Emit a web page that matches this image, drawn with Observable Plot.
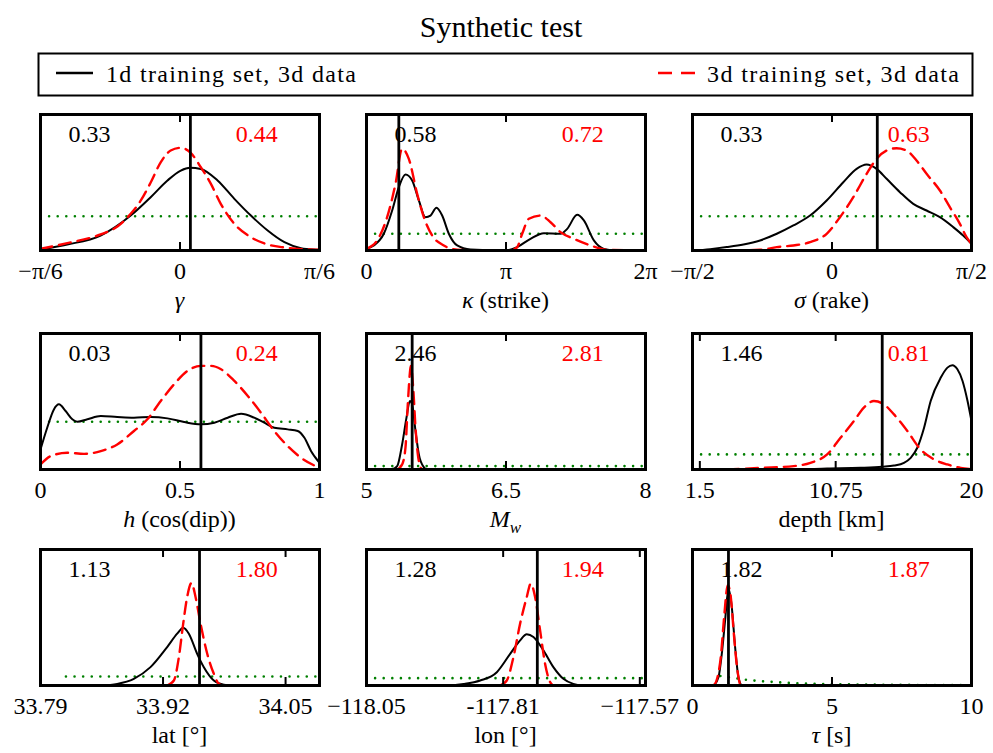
<!DOCTYPE html>
<html>
<head>
<meta charset="utf-8">
<script src="https://cdn.jsdelivr.net/npm/d3@7"></script>
<script src="https://cdn.jsdelivr.net/npm/@observablehq/plot@0.6"></script>
<style>
  body { margin: 0; background: #fff; }
  #wrap { position: relative; width: 993px; height: 753px; overflow: hidden; background: #fff; }
  .panel { position: absolute; }
  #header { position: absolute; left: 0; top: 0; }
  svg text { font-family: "Liberation Serif", "DejaVu Serif", "Noto Serif", "Times New Roman", Times, "FreeSerif", Georgia, serif; }
</style>
</head>
<body>
<div id="wrap">
  <svg id="header" width="993" height="105"></svg>
</div>
<script>
// ---------- data (x in parameter units, y = density relative to panel height) ----------
const PI = Math.PI;

// gamma
const gammaDomain = [-PI / 6, PI / 6];
const gammaTicks = [-PI / 6, 0, PI / 6];
const gammaTickLabels = ["−π/6", "0", "π/6"];
const gamma1d = [[-0.524,0.007],[-0.423,0.044],[-0.298,0.11],[-0.185,0.257],[-0.110,0.392],[-0.047,0.515],[0.003,0.588],[0.038,0.608],[0.078,0.600],[0.141,0.515],[0.204,0.38],[0.266,0.257],[0.329,0.147],[0.392,0.061],[0.454,0.017],[0.517,0.005],[0.524,0.004]];
const gamma3d = [[-0.524,0.012],[-0.423,0.054],[-0.298,0.118],[-0.235,0.176],[-0.185,0.27],[-0.147,0.368],[-0.110,0.50],[-0.072,0.65],[-0.035,0.735],[0.003,0.755],[0.041,0.716],[0.078,0.613],[0.116,0.49],[0.153,0.343],[0.204,0.196],[0.266,0.098],[0.329,0.044],[0.392,0.022],[0.454,0.01],[0.524,0.005]];
const gammaPrior = [[-0.5236,0.252],[0.5236,0.252]];
const gammaTrue = 0.039;
const gammaScores = ["0.33", "0.44"];

// kappa (strike)
const kappaDomain = [0, 2 * PI];
const kappaTicks = [0, PI, 2 * PI];
const kappaTickLabels = ["0", "π", "2π"];
const kappa1d = [[0,0.012],[0.165,0.037],[0.390,0.123],[0.578,0.294],[0.728,0.466],[0.878,0.559],[1.028,0.515],[1.179,0.368],[1.329,0.245],[1.441,0.257],[1.576,0.314],[1.704,0.257],[1.854,0.123],[2.042,0.037],[2.342,0.007],[3.145,0.0],[3.393,0.025],[3.693,0.086],[3.994,0.127],[4.369,0.123],[4.519,0.159],[4.744,0.262],[4.895,0.221],[5.120,0.074],[5.345,0.012],[5.645,0],[6.283,0]];
const kappa3d = [[0,0.012],[0.240,0.074],[0.465,0.245],[0.653,0.49],[0.803,0.748],[0.953,0.674],[1.141,0.417],[1.291,0.245],[1.479,0.11],[1.742,0.037],[2.042,0.005],[2.567,0],[3.243,0],[3.393,0.025],[3.506,0.123],[3.656,0.233],[3.919,0.257],[4.144,0.208],[4.369,0.135],[4.669,0.086],[5.045,0.037],[5.420,0.005],[6.283,0]];
const kappaPrior = [[0,0.123],[6.2832,0.123]];
const kappaTrue = 0.728;
const kappaScores = ["0.58", "0.72"];

// sigma (rake)
const sigmaDomain = [-PI / 2, PI / 2];
const sigmaTicks = [-PI / 2, 0, PI / 2];
const sigmaTickLabels = ["−π/2", "0", "π/2"];
const sigma1d = [[-1.571,0],[-1.372,0.01],[-1.185,0.025],[-0.997,0.044],[-0.810,0.074],[-0.622,0.123],[-0.435,0.184],[-0.247,0.257],[-0.060,0.368],[0.127,0.502],[0.277,0.6],[0.390,0.632],[0.502,0.6],[0.615,0.527],[0.765,0.429],[0.915,0.343],[1.065,0.294],[1.215,0.245],[1.365,0.172],[1.477,0.11],[1.571,0.049]];
const sigma3d = [[-1.571,0],[-1.185,0.001],[-0.810,0.005],[-0.622,0.025],[-0.435,0.037],[-0.247,0.061],[-0.060,0.123],[0.090,0.245],[0.240,0.392],[0.390,0.564],[0.502,0.674],[0.615,0.735],[0.727,0.752],[0.840,0.735],[0.952,0.662],[1.065,0.564],[1.215,0.441],[1.327,0.319],[1.440,0.196],[1.515,0.098],[1.571,0.049]];
const sigmaPrior = [[-1.5708,0.252],[1.5708,0.252]];
const sigmaTrue = 0.510;
const sigmaScores = ["0.33", "0.63"];

// h (cos(dip))
const hDomain = [0, 1];
const hTicks = [0, 0.5, 1];
const hTickLabels = ["0", "0.5", "1"];
const h1d = [[0,0.147],[0.024,0.307],[0.048,0.442],[0.066,0.479],[0.09,0.43],[0.114,0.369],[0.132,0.351],[0.168,0.369],[0.216,0.393],[0.275,0.386],[0.335,0.381],[0.395,0.386],[0.455,0.376],[0.515,0.349],[0.575,0.332],[0.623,0.344],[0.671,0.381],[0.719,0.41],[0.766,0.381],[0.802,0.344],[0.838,0.307],[0.886,0.295],[0.922,0.283],[0.946,0.233],[0.970,0.135],[1.0,0.049]];
const h3d = [[0,0.037],[0.036,0.098],[0.096,0.123],[0.156,0.115],[0.216,0.135],[0.275,0.184],[0.335,0.283],[0.383,0.369],[0.431,0.504],[0.479,0.627],[0.527,0.725],[0.575,0.762],[0.611,0.762],[0.647,0.737],[0.695,0.651],[0.743,0.541],[0.790,0.418],[0.838,0.283],[0.886,0.172],[0.934,0.086],[1.0,0.012]];
const hPrior = [[0,0.351],[1,0.351]];
const hTrue = 0.575;
const hScores = ["0.03", "0.24"];

// Mw
const mwDomain = [5, 8];
const mwTicks = [5, 6.5, 8];
const mwTickLabels = ["5", "6.5", "8"];
const mw1d = [[5.25,0],[5.276,0.002],[5.330,0.025],[5.383,0.184],[5.430,0.381],[5.466,0.504],[5.491,0.48],[5.527,0.283],[5.563,0.111],[5.616,0.017],[5.652,0],[5.7,0]];
const mw3d = [[5.330,0],[5.383,0.037],[5.419,0.16],[5.444,0.479],[5.473,0.749],[5.477,0.762],[5.502,0.602],[5.527,0.307],[5.563,0.061],[5.599,0],[5.65,0]];
const mwPrior = [[5,0.025],[8,0.025]];
const mwTrue = 5.491;
const mwScores = ["2.46", "2.81"];

// depth
const depthDomain = [1, 20];
const depthTicks = [1.5, 10.75, 20];
const depthTickLabels = ["1.5", "10.75", "20"];
const depth1d = [[1,0],[7.894,0],[10.17,0.007],[12.445,0.012],[13.924,0.02],[14.72,0.029],[15.40,0.049],[15.86,0.086],[16.31,0.16],[16.77,0.307],[17.22,0.504],[17.91,0.676],[18.36,0.749],[18.70,0.767],[19.04,0.737],[19.39,0.651],[19.73,0.504],[20,0.356]];
const depth3d = [[3.344,0],[5.619,0.012],[7.894,0.025],[9.03,0.049],[10.17,0.111],[11.08,0.233],[11.99,0.356],[12.67,0.455],[13.355,0.504],[14.04,0.479],[14.72,0.405],[15.63,0.283],[16.54,0.147],[17.45,0.074],[18.36,0.037],[19.27,0.012],[20,0.002]];
const depthPrior = [[1,0.111],[20,0.111]];
const depthTrue = 13.92;
const depthScores = ["1.46", "0.81"];

// lat
const latDomain = [33.79, 34.086];
const latTicks = [33.79, 33.92, 34.05];
const latTickLabels = ["33.79", "33.92", "34.05"];
const lat1d = [[33.8537,0],[33.8714,0.012],[33.889,0.049],[33.9067,0.135],[33.9244,0.283],[33.935,0.381],[33.9414,0.425],[33.9474,0.381],[33.9562,0.233],[33.9633,0.135],[33.9739,0.037],[33.9845,0.005],[33.995,0]];
const lat3d = [[33.9244,0],[33.9315,0.037],[33.9368,0.209],[33.9414,0.455],[33.9456,0.651],[33.9502,0.754],[33.9545,0.651],[33.9598,0.455],[33.9669,0.233],[33.9739,0.086],[33.9792,0.012],[33.983,0]];
const latPrior = [[33.817,0.066],[34.086,0.066]];
const latTrue = 33.9587;
const latScores = ["1.13", "1.80"];

// lon
const lonDomain = [-118.05, -117.56];
const lonTicks = [-118.05, -117.81, -117.57];
const lonTickLabels = ["−118.05", "-117.81", "−117.57"];
const lon1d = [[-117.95,0],[-117.9087,0.002],[-117.8795,0.012],[-117.8503,0.037],[-117.8211,0.098],[-117.7977,0.233],[-117.7802,0.332],[-117.7685,0.376],[-117.7568,0.356],[-117.7393,0.258],[-117.7218,0.135],[-117.7043,0.049],[-117.6868,0.012],[-117.6692,0]];
const lon3d = [[-117.8153,0],[-117.8036,0.037],[-117.7919,0.209],[-117.7802,0.455],[-117.7685,0.651],[-117.7615,0.749],[-117.7539,0.651],[-117.7451,0.405],[-117.7364,0.16],[-117.7276,0.025],[-117.7218,0]];
const lonPrior = [[-118.05,0.054],[-117.56,0.054]];
const lonTrue = -117.750;
const lonScores = ["1.28", "1.94"];

// tau
const tauDomain = [0, 10];
const tauTicks = [0, 5, 10];
const tauTickLabels = ["0", "5", "10"];
const tau1d = [[0.70,0],[0.752,0.002],[0.931,0.061],[1.050,0.233],[1.169,0.479],[1.289,0.713],[1.408,0.577],[1.527,0.283],[1.647,0.061],[1.766,0.002],[1.82,0]];
const tau3d = [[0.70,0],[0.752,0.002],[0.895,0.061],[1.014,0.209],[1.134,0.504],[1.265,0.737],[1.372,0.651],[1.492,0.356],[1.611,0.111],[1.730,0.002],[1.78,0]];
const tauPrior = [[1.0,0.07],[1.05,0.069],[1.92,0.042],[2.42,0.032],[3.62,0.017],[4.81,0.01],[7.2,0.005],[10,0.002]];
const tauTrue = 1.289;
const tauScores = ["1.82", "1.87"];

// axis labels (text parts: [text, italic, subscript])
const gammaLabel = [["γ", true]];
const kappaLabel = [["κ", true], [" (strike)", false]];
const sigmaLabel = [["σ", true], [" (rake)", false]];
const hLabel = [["h", true], [" (cos(dip))", false]];
const mwLabel = [["M", true], ["w", true, true]];
const depthLabel = [["depth [km]", false]];
const latLabel = [["lat [°]", false]];
const lonLabel = [["lon [°]", false]];
const tauLabel = [["τ", true], [" [s]", false]];

const legendLabels = ["1d training set, 3d data", "3d training set, 3d data"];
const titleText = "Synthetic test";

// ---------- layout ----------
const colLeft = [40, 366, 692];
const rowTop = [114, 333, 549];
const FW = 279, FH = 136;
const ML = 60, MR = 60, MT = 10, MB = 75;

const panels = [
  {domain: gammaDomain, ticks: gammaTicks, tickLabels: gammaTickLabels, a: gamma1d, b: gamma3d, prior: gammaPrior, truth: gammaTrue, scores: gammaScores, label: gammaLabel},
  {domain: kappaDomain, ticks: kappaTicks, tickLabels: kappaTickLabels, a: kappa1d, b: kappa3d, prior: kappaPrior, truth: kappaTrue, scores: kappaScores, label: kappaLabel},
  {domain: sigmaDomain, ticks: sigmaTicks, tickLabels: sigmaTickLabels, a: sigma1d, b: sigma3d, prior: sigmaPrior, truth: sigmaTrue, scores: sigmaScores, label: sigmaLabel},
  {domain: hDomain, ticks: hTicks, tickLabels: hTickLabels, a: h1d, b: h3d, prior: hPrior, truth: hTrue, scores: hScores, label: hLabel},
  {domain: mwDomain, ticks: mwTicks, tickLabels: mwTickLabels, a: mw1d, b: mw3d, prior: mwPrior, truth: mwTrue, scores: mwScores, label: mwLabel},
  {domain: depthDomain, ticks: depthTicks, tickLabels: depthTickLabels, a: depth1d, b: depth3d, prior: depthPrior, truth: depthTrue, scores: depthScores, label: depthLabel},
  {domain: latDomain, ticks: latTicks, tickLabels: latTickLabels, a: lat1d, b: lat3d, prior: latPrior, truth: latTrue, scores: latScores, label: latLabel},
  {domain: lonDomain, ticks: lonTicks, tickLabels: lonTickLabels, a: lon1d, b: lon3d, prior: lonPrior, truth: lonTrue, scores: lonScores, label: lonLabel},
  {domain: tauDomain, ticks: tauTicks, tickLabels: tauTickLabels, a: tau1d, b: tau3d, prior: tauPrior, truth: tauTrue, scores: tauScores, label: tauLabel}
];

const wrap = document.getElementById("wrap");
const X = d => d[0], Y = d => d[1];

panels.forEach((p, i) => {
  const col = i % 3, row = Math.floor(i / 3);
  const [d0, d1] = p.domain;
  const tickTable = p.ticks.map((v, k) => ({v, t: p.tickLabels[k]}));
  const scoreTable = [
    {x: d0 + 0.1 * (d1 - d0), y: 0.8, t: p.scores[0], c: "black"},
    {x: d0 + 0.7 * (d1 - d0), y: 0.8, t: p.scores[1], c: "red"}
  ];
  const svg = Plot.plot({
    width: FW + ML + MR,
    height: FH + MT + MB,
    marginLeft: ML, marginRight: MR, marginTop: MT, marginBottom: MB,
    x: {domain: p.domain, axis: null},
    y: {domain: [0, 1], axis: null},
    style: {background: "none", overflow: "visible", fontSize: "24px", color: "black"},
    marks: [
      Plot.line(p.prior, {x: X, y: Y, stroke: "#008000", strokeWidth: 2.6, strokeDasharray: "0,8.6", strokeLinecap: "round", clip: true}),
      Plot.line(p.a, {x: X, y: Y, stroke: "black", strokeWidth: 2, curve: "monotone-x", clip: true}),
      Plot.line(p.b, {x: X, y: Y, stroke: "red", strokeWidth: 2.4, strokeDasharray: "12,7", curve: "monotone-x", clip: true}),
      Plot.ruleX([p.truth], {stroke: "black", strokeWidth: 2.8}),
      Plot.tickX(tickTable, {x: "v", stroke: "black", strokeWidth: 2, insetTop: FH - 8}),
      Plot.tickX(tickTable, {x: "v", stroke: "black", strokeWidth: 2, insetBottom: FH - 8}),
      Plot.frame({stroke: "black", strokeWidth: 3}),
      Plot.text(tickTable, {x: "v", text: "t", frameAnchor: "bottom", lineAnchor: "bottom", dy: 28, fontSize: 24, fill: "black"}),
      Plot.text(scoreTable, {x: "x", y: "y", text: "t", fill: "c", textAnchor: "start", lineAnchor: "bottom", fontSize: 24})
    ]
  });
  svg.classList.add("panel");
  svg.style.left = (colLeft[col] - ML) + "px";
  svg.style.top = (rowTop[row] - MT) + "px";
  // axis label with italic/subscript parts
  const t = d3.select(svg).append("text")
    .attr("x", ML + FW / 2)
    .attr("y", MT + FH + 58)
    .attr("text-anchor", "middle")
    .attr("font-size", 24)
    .attr("fill", "black");
  p.label.forEach(([txt, it, sub]) => {
    const s = t.append("tspan").text(txt);
    if (it) s.attr("font-style", "italic");
    if (sub) s.attr("font-size", 17).attr("dy", 6);
  });
  wrap.appendChild(svg);
});

// ---------- title and legend ----------
const hdr = d3.select("#header");
hdr.append("text").attr("x", 501).attr("y", 37).attr("text-anchor", "middle")
  .attr("font-size", 30).attr("fill", "black").text(titleText);
hdr.append("rect").attr("x", 38.5).attr("y", 53.5).attr("width", 934).attr("height", 42)
  .attr("fill", "white").attr("stroke", "black").attr("stroke-width", 2);
hdr.append("line").attr("x1", 56).attr("x2", 93).attr("y1", 73).attr("y2", 73)
  .attr("stroke", "black").attr("stroke-width", 2.6);
hdr.append("text").attr("x", 106).attr("y", 82).attr("font-size", 24).attr("fill", "black")
  .attr("textLength", 250).attr("lengthAdjust", "spacing").text(legendLabels[0]);
hdr.append("line").attr("x1", 658).attr("x2", 695).attr("y1", 73).attr("y2", 73)
  .attr("stroke", "red").attr("stroke-width", 2.6).attr("stroke-dasharray", "14,9");
hdr.append("text").attr("x", 707).attr("y", 82).attr("font-size", 24).attr("fill", "black")
  .attr("textLength", 252).attr("lengthAdjust", "spacing").text(legendLabels[1]);
</script>
</body>
</html>
